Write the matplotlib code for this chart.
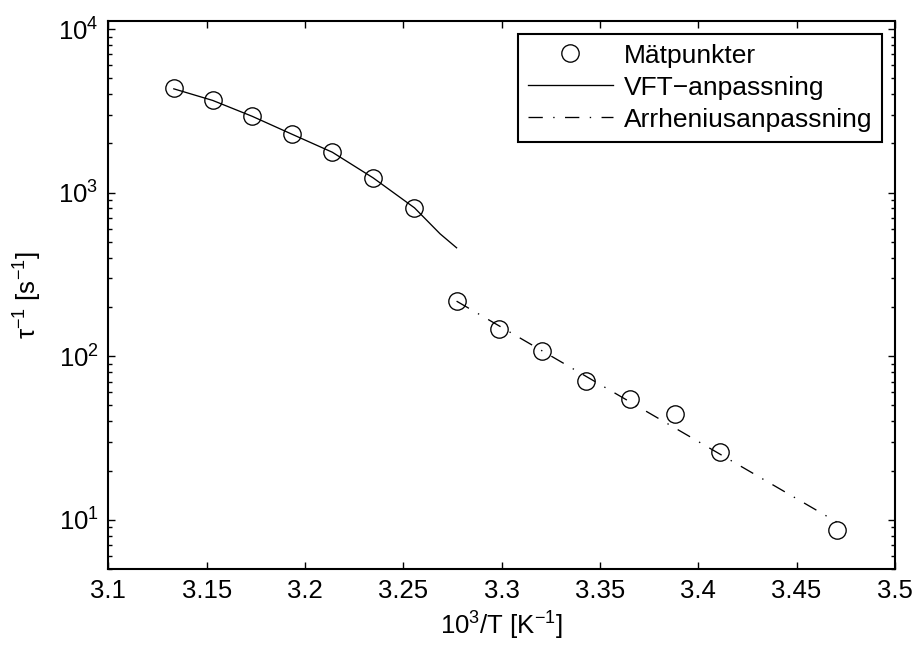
import matplotlib
matplotlib.use("Agg")
import matplotlib.pyplot as plt
from matplotlib.ticker import LogLocator, NullFormatter, FixedLocator

plt.rcParams['font.family'] = ['Liberation Sans', 'DejaVu Sans']
plt.rcParams['mathtext.fontset'] = 'custom'
plt.rcParams['mathtext.rm'] = 'Liberation Sans'
plt.rcParams['mathtext.it'] = 'Liberation Sans:italic'
plt.rcParams['mathtext.default'] = 'regular'
plt.rcParams['lines.scale_dashes'] = False

# Measured points (x = 1000/T, y = 1/tau)
meas_x = [3.1333, 3.1531, 3.1731, 3.1934, 3.2139, 3.2347, 3.2557,
          3.2771, 3.2987, 3.3206, 3.3428, 3.3653, 3.3881, 3.4112, 3.4704]
meas_y = [4390, 3690, 2930, 2275, 1766, 1225, 800,
          217, 146, 107, 71, 54.8, 44.3, 25.9, 8.69]

# VFT fit curve
vft_x = [3.1333, 3.1531, 3.1731, 3.1934, 3.2139, 3.2347, 3.2557, 3.2687, 3.2771]
vft_y = [4310, 3660, 2930, 2275, 1766, 1230, 807, 560, 460]

# Arrhenius fit line
arr_x = [3.2771, 3.4704]
arr_y = [217, 9.7]

xticks = [3.1, 3.15, 3.2, 3.25, 3.3, 3.35, 3.4, 3.45, 3.5]
xtick_labels = ['3.1', '3.15', '3.2', '3.25', '3.3', '3.35', '3.4', '3.45', '3.5']

fig = plt.figure(figsize=(9.15, 6.46), dpi=100)
ax = fig.add_axes([0.1184, 0.1192, 0.8596, 0.8483])

ax.plot(meas_x, meas_y, linestyle='none', marker='o', markersize=12.5,
        markerfacecolor='none', markeredgecolor='black', markeredgewidth=0.95,
        label='Mätpunkter')
ax.plot(vft_x, vft_y, color='black', linewidth=0.95, label='VFT\u2212anpassning')
ax.plot(arr_x, arr_y, color='black', linewidth=0.95,
        dashes=(10.3, 7.5, 1.0, 7.5), label='Arrheniusanpassning')

ax.set_yscale('log')
ax.set_xlim(3.1, 3.5)
ax.set_ylim(5, 1.12e4)
ax.xaxis.set_major_locator(FixedLocator(xticks))
ax.set_xticklabels(xtick_labels)
ax.yaxis.set_major_locator(LogLocator(base=10))
ax.yaxis.set_minor_locator(LogLocator(base=10, subs=range(2, 10)))
ax.yaxis.set_minor_formatter(NullFormatter())

ax.tick_params(which='both', direction='in', top=True, right=True,
               labelsize=18.5, width=1.0)
ax.tick_params(which='major', length=5, pad=7)
ax.tick_params(which='minor', length=3)
for s in ax.spines.values():
    s.set_linewidth(1.5)

ax.set_xlabel('10$^{3}$/T [K$^{\u22121}$]', fontsize=18.5, labelpad=5)
ax.set_ylabel('\u03c4$^{\u22121}$ [s$^{\u22121}$]', fontsize=18.5, labelpad=10)

leg = ax.legend(loc='upper right', fontsize=19, numpoints=1, handlelength=3.2,
                handletextpad=0.42, labelspacing=0.3, borderpad=0.38,
                borderaxespad=0.48, fancybox=False, framealpha=1,
                edgecolor='black')
leg.get_frame().set_linewidth(1.5)

fig.savefig('out.png', dpi=100)
